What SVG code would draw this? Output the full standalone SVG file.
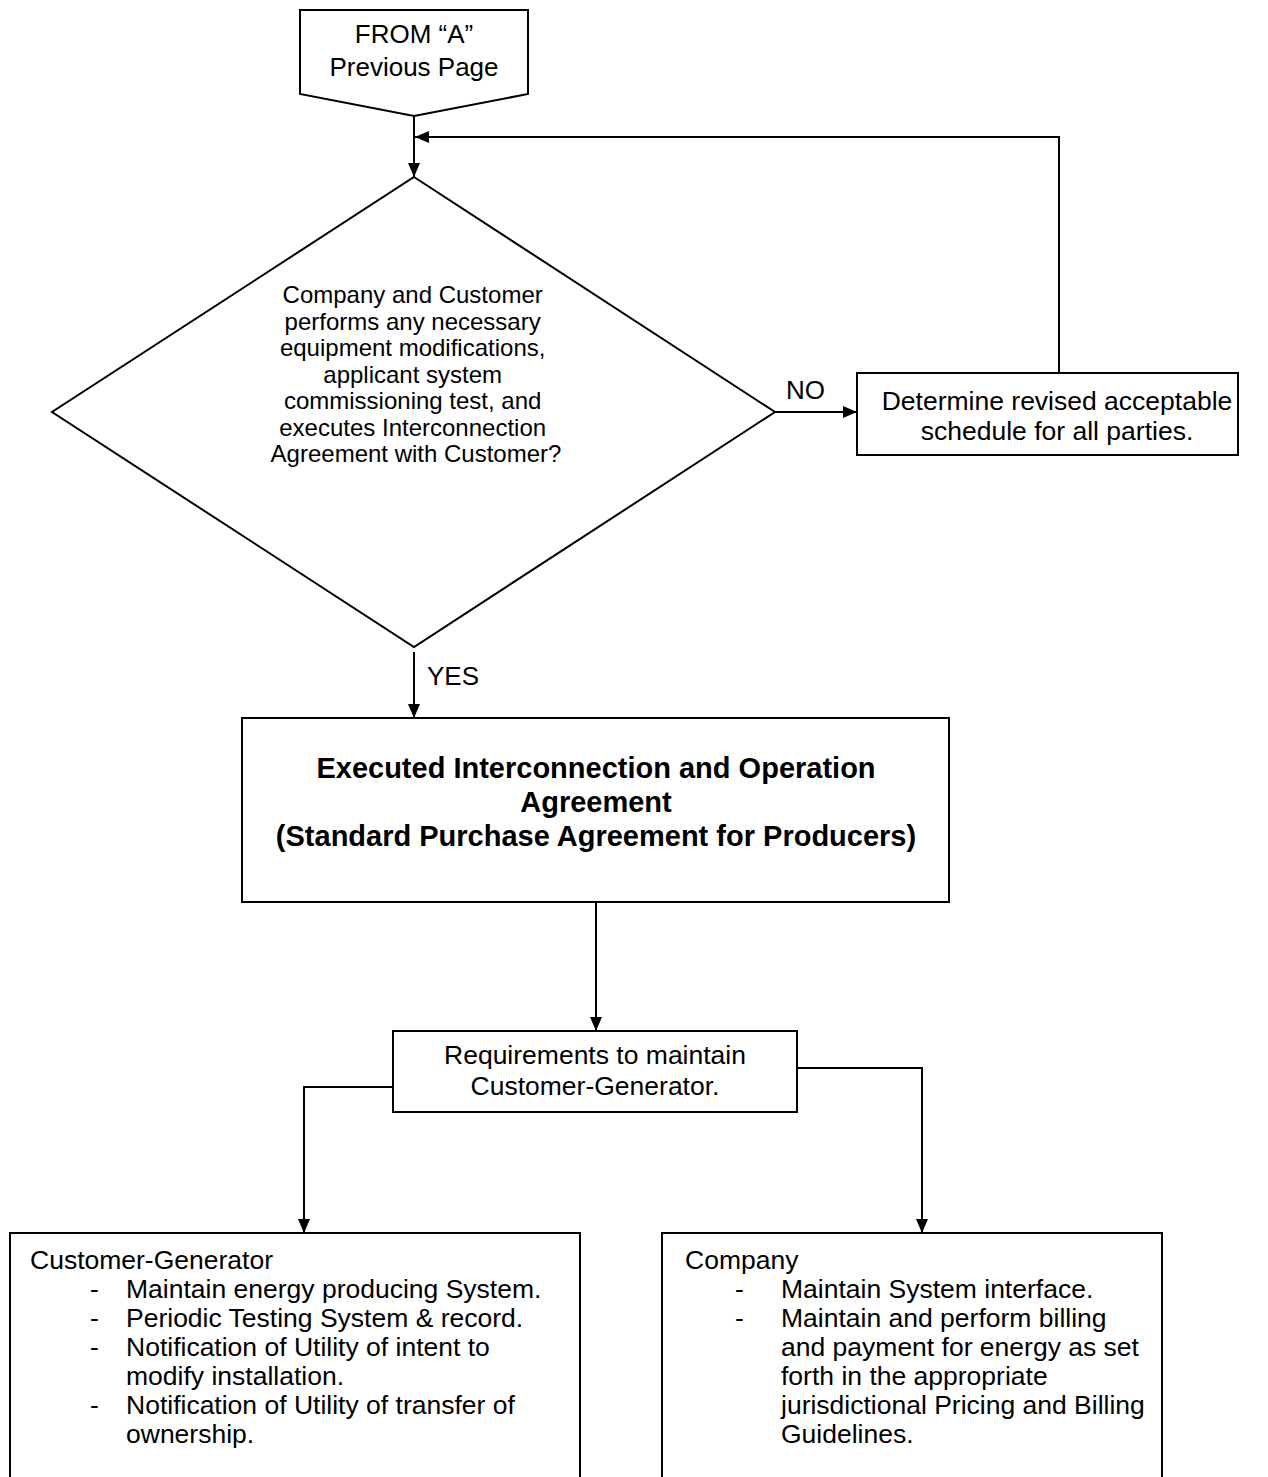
<svg xmlns="http://www.w3.org/2000/svg" width="1268" height="1477" viewBox="0 0 1268 1477">
<defs>
<style>
.s{fill:#fff;stroke:#000;stroke-width:2}
.c{fill:none;stroke:#000;stroke-width:2}
text{font-family:"Liberation Sans",Arial,sans-serif;fill:#000}
.t26{font-size:26px}
.t20{font-size:26.5px}
.t18{font-size:24px}
.b{font-size:29px;font-weight:bold}
</style>
<marker id="ah" viewBox="0 0 14 12" refX="14" refY="6" markerWidth="14" markerHeight="12" markerUnits="userSpaceOnUse" orient="auto"><path d="M0,0 L14,6 L0,12 z" fill="#000"/></marker>
</defs>
<g id="connectors">
<path class="c" d="M414,116 V177" marker-end="url(#ah)"/>
<path class="c" d="M1059,373 V137 H415" marker-end="url(#ah)"/>
<path class="c" d="M775,412 H857" marker-end="url(#ah)"/>
<path class="c" d="M414,652 V718" marker-end="url(#ah)"/>
<path class="c" d="M596,902 V1031" marker-end="url(#ah)"/>
<path class="c" d="M797,1068 H922 V1233" marker-end="url(#ah)"/>
<path class="c" d="M393,1087 H304 V1233" marker-end="url(#ah)"/>
</g>
<g id="start">
<path class="s" d="M300,10 H528 V94 L414,116 L300,94 Z"/>
<text class="t26" x="414" y="43" text-anchor="middle">FROM “A”</text>
<text class="t26" x="414" y="76" text-anchor="middle">Previous Page</text>
</g>
<g id="decision">
<path class="s" d="M414,177 L775,412 L414,647 L52,412 Z"/>
<text class="t18" text-anchor="middle">
<tspan x="416" y="303">Company and Customer</tspan>
<tspan x="416" y="330">performs any necessary</tspan>
<tspan x="416" y="356">equipment modifications,</tspan>
<tspan x="416" y="383">applicant system</tspan>
<tspan x="416" y="409">commissioning test, and</tspan>
<tspan x="416" y="436">executes Interconnection</tspan>
<tspan x="416" y="462">Agreement with Customer?</tspan>
</text>
</g>
<g id="label-no"><text class="t26" x="786" y="399">NO</text></g>
<g id="label-yes"><text class="t26" x="427" y="685">YES</text></g>
<g id="revise">
<rect class="s" x="857" y="373" width="381" height="82"/>
<text class="t20" x="1057" y="410" text-anchor="middle">Determine revised acceptable</text>
<text class="t20" x="1057" y="440" text-anchor="middle">schedule for all parties.</text>
</g>
<g id="executed">
<rect class="s" x="242" y="718" width="707" height="184"/>
<text class="b" x="596" y="778" text-anchor="middle">Executed Interconnection and Operation</text>
<text class="b" x="596" y="812" text-anchor="middle">Agreement</text>
<text class="b" x="596" y="846" text-anchor="middle">(Standard Purchase Agreement for Producers)</text>
</g>
<g id="requirements">
<rect class="s" x="393" y="1031" width="404" height="81"/>
<text class="t20" x="595" y="1064" text-anchor="middle">Requirements to maintain</text>
<text class="t20" x="595" y="1095" text-anchor="middle">Customer-Generator.</text>
</g>
<g id="customer-generator">
<rect class="s" x="10" y="1233" width="570" height="260"/>
<text class="t20" x="30" y="1269">Customer-Generator</text>
<text class="t20" x="90" y="1298">-</text><text class="t20" x="126" y="1298">Maintain energy producing System.</text>
<text class="t20" x="90" y="1327">-</text><text class="t20" x="126" y="1327">Periodic Testing System &amp; record.</text>
<text class="t20" x="90" y="1356">-</text><text class="t20" x="126" y="1356">Notification of Utility of intent to</text>
<text class="t20" x="126" y="1385">modify installation.</text>
<text class="t20" x="90" y="1414">-</text><text class="t20" x="126" y="1414">Notification of Utility of transfer of</text>
<text class="t20" x="126" y="1443">ownership.</text>
</g>
<g id="company">
<rect class="s" x="662" y="1233" width="500" height="260"/>
<text class="t20" x="685" y="1269">Company</text>
<text class="t20" x="735" y="1298">-</text><text class="t20" x="781" y="1298">Maintain System interface.</text>
<text class="t20" x="735" y="1327">-</text><text class="t20" x="781" y="1327">Maintain and perform billing</text>
<text class="t20" x="781" y="1356">and payment for energy as set</text>
<text class="t20" x="781" y="1385">forth in the appropriate</text>
<text class="t20" x="781" y="1414">jurisdictional Pricing and Billing</text>
<text class="t20" x="781" y="1443">Guidelines.</text>
</g>
</svg>
